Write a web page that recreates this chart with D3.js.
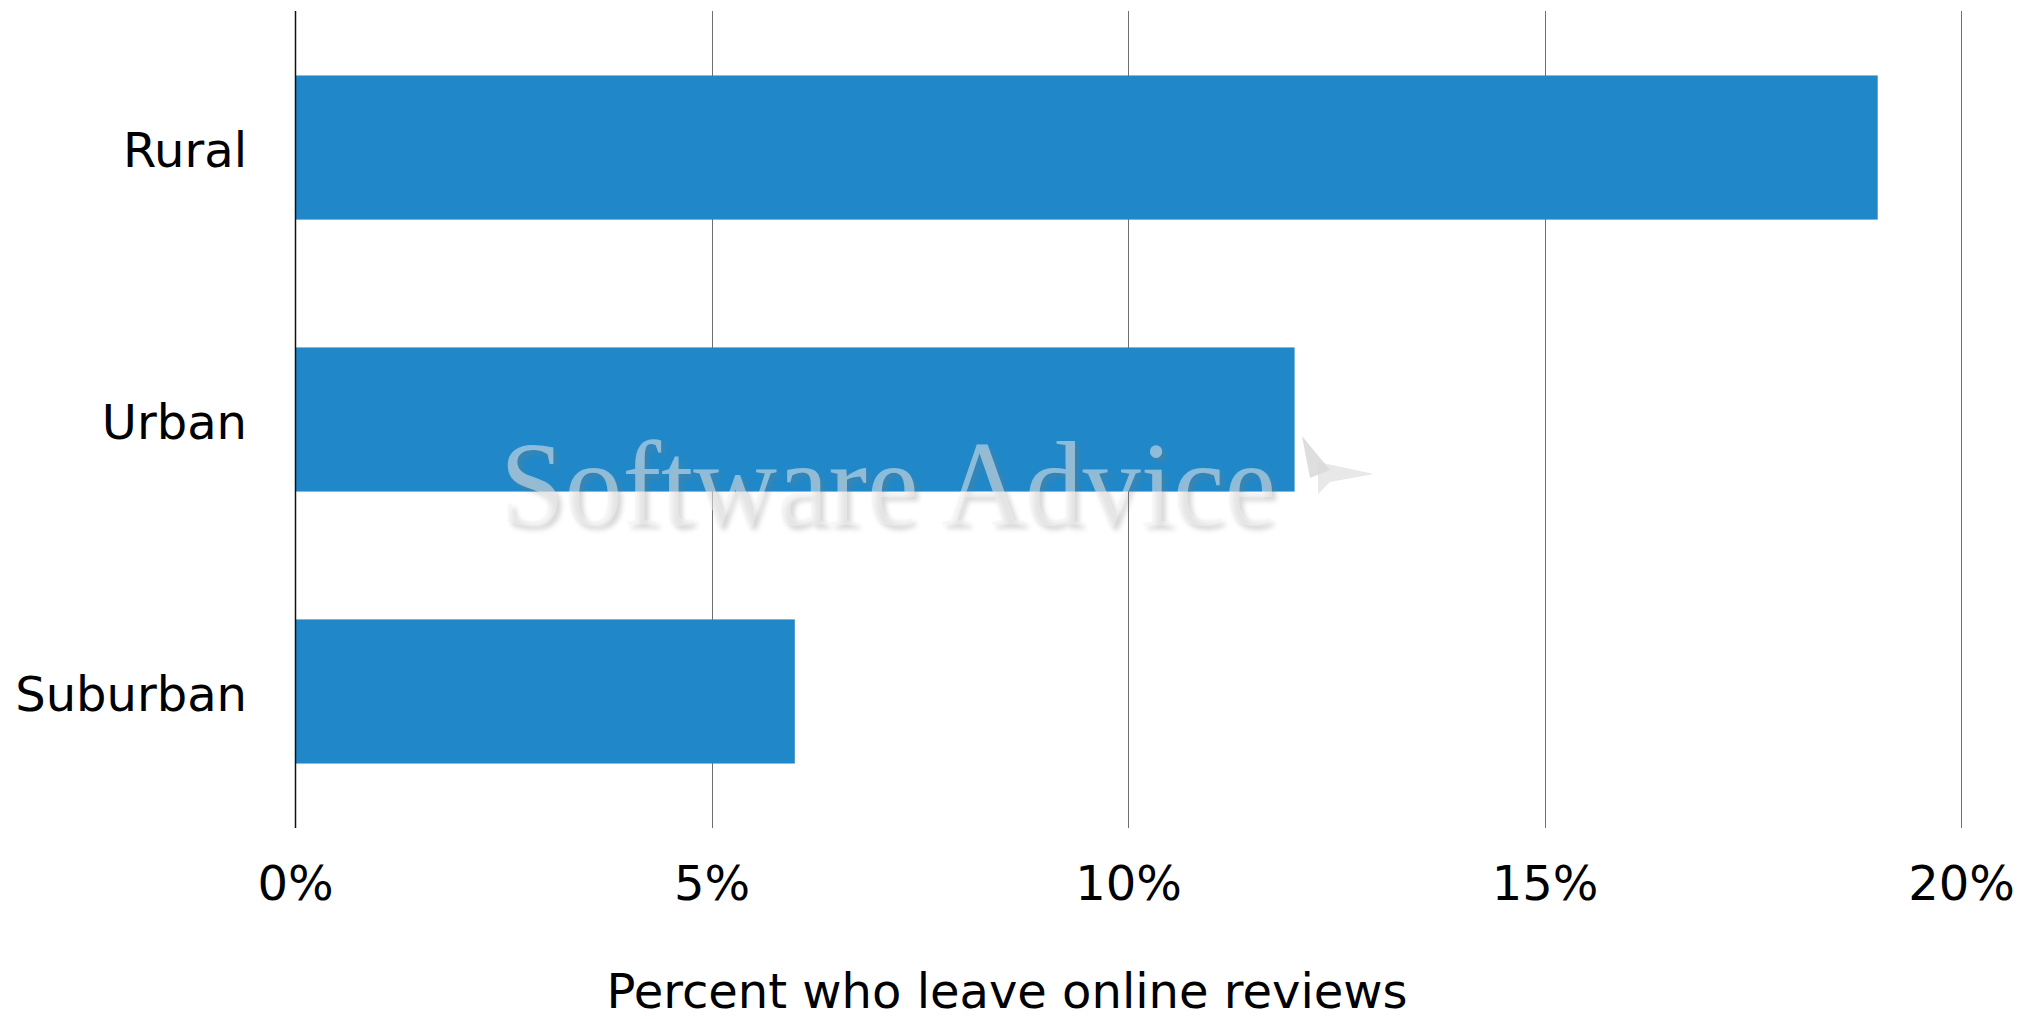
<!DOCTYPE html>
<html>
<head>
<meta charset="utf-8">
<script src="https://cdn.jsdelivr.net/npm/d3@7"></script>
<style>
  html, body { margin: 0; padding: 0; background: #fff; }
  svg { display: block; }
</style>
</head>
<body>
<svg id="chart" width="2036" height="1019" font-family="'DejaVu Sans', Verdana, sans-serif"></svg>
<script>
// Share of people who leave online reviews, by area type
const categories = ["Rural", "Urban", "Suburban"];
const values = [19, 12, 6];
const tickValues = [0, 5, 10, 15, 20];
const tickLabels = ["0%", "5%", "10%", "15%", "20%"];
const axisTitle = "Percent who leave online reviews";
const watermarkText = "Software Advice";

const svg = d3.select("#chart");

const plot = { left: 295, right: 1961, top: 11, bottom: 828 };

const x = d3.scaleLinear().domain([0, 20]).range([plot.left, plot.right]);
const y = d3.scaleBand()
  .domain(categories)
  .range([plot.top, plot.bottom])
  .paddingInner(0.47)
  .paddingOuter(0.237);

// Vertical gridlines
svg.append("g")
  .selectAll("line")
  .data(tickValues.filter(v => v !== 0))
  .join("line")
  .attr("x1", d => Math.round(x(d)) + 0.5)
  .attr("x2", d => Math.round(x(d)) + 0.5)
  .attr("y1", plot.top)
  .attr("y2", plot.bottom)
  .attr("stroke", "#6e6e6e")
  .attr("stroke-width", 1);

// Bars
svg.append("g")
  .selectAll("rect")
  .data(categories)
  .join("rect")
  .attr("x", x(0))
  .attr("y", d => y(d))
  .attr("width", (d, i) => x(values[i]) - x(0))
  .attr("height", y.bandwidth())
  .attr("fill", "#2088c8");

// Baseline at zero
svg.append("line")
  .attr("x1", Math.round(x(0)) + 0.5)
  .attr("x2", Math.round(x(0)) + 0.5)
  .attr("y1", plot.top)
  .attr("y2", plot.bottom)
  .attr("stroke", "#111")
  .attr("stroke-width", 1.5);

// Watermark
const defs = svg.append("defs");
defs.append("filter")
  .attr("id", "soft")
  .attr("x", "-10%").attr("y", "-20%").attr("width", "120%").attr("height", "140%")
  .append("feGaussianBlur")
  .attr("stdDeviation", 2.5);

const serif = "'Liberation Serif', 'DejaVu Serif', serif";
const wm = svg.append("g").attr("pointer-events", "none");
wm.append("text")
  .attr("x", 504).attr("y", 529)
  .style("font-family", serif)
  .attr("font-size", 120)
  .attr("textLength", 776)
  .attr("lengthAdjust", "spacingAndGlyphs")
  .attr("fill", "#7a7a7a")
  .attr("opacity", 0.3)
  .attr("filter", "url(#soft)")
  .text(watermarkText);
wm.append("text")
  .attr("x", 500).attr("y", 525)
  .style("font-family", serif)
  .attr("font-size", 120)
  .attr("textLength", 776)
  .attr("lengthAdjust", "spacingAndGlyphs")
  .attr("fill", "#f2f2f2")
  .attr("opacity", 0.5)
  .text(watermarkText);
// small logo mark beside the watermark
wm.append("path")
  .attr("d", "M1302,436 L1330,470 L1310,478 Z")
  .attr("fill", "#c8c8c8").attr("opacity", 0.6);
wm.append("path")
  .attr("d", "M1318,462 L1374,474 L1330,482 L1318,494 Z")
  .attr("fill", "#d8d8d8").attr("opacity", 0.6);

// Category labels
svg.append("g")
  .selectAll("text")
  .data(categories)
  .join("text")
  .attr("x", 247)
  .attr("y", d => y(d) + y.bandwidth() / 2)
  .attr("dy", "0.4em")
  .attr("text-anchor", "end")
  .attr("font-size", 48)
  .attr("fill", "#000")
  .text(d => d);

// X axis tick labels
const xAxis = d3.axisBottom(x)
  .tickValues(tickValues)
  .tickFormat((d, i) => tickLabels[i])
  .tickSize(0)
  .tickPadding(0);

const gx = svg.append("g")
  .attr("transform", "translate(0,900)")
  .call(xAxis);
gx.select(".domain").remove();
gx.attr("font-family", null).attr("font-size", null);
gx.selectAll("text")
  .attr("y", 0)
  .attr("dy", 0)
  .attr("font-size", 48)
  .attr("fill", "#000");

// Axis title
svg.append("text")
  .attr("x", 1007)
  .attr("y", 1008)
  .attr("text-anchor", "middle")
  .attr("font-size", 48)
  .attr("fill", "#000")
  .text(axisTitle);
</script>
</body>
</html>
